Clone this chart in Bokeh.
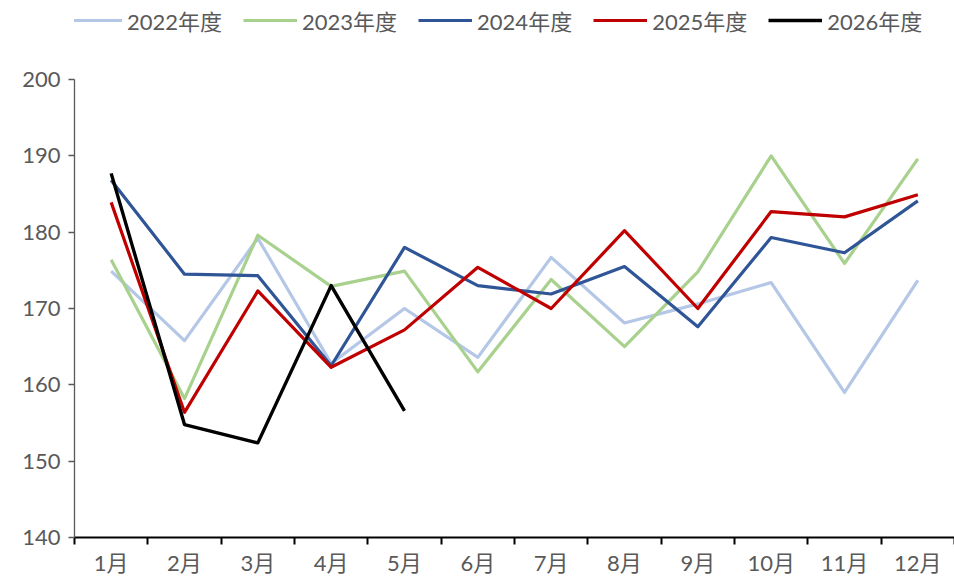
from bokeh.plotting import figure
from bokeh.layouts import column
from bokeh.models import FixedTicker, Legend, LegendItem, Range1d
from bokeh.embed import file_html
from bokeh.resources import INLINE

months = ["1月", "2月", "3月", "4月", "5月", "6月", "7月", "8月", "9月", "10月", "11月", "12月"]
y2022 = [174.9, 165.8, 179.2, 162.8, 170.0, 163.6, 176.7, 168.1, 170.6, 173.4, 159.0, 173.7]
y2023 = [176.4, 158.2, 179.6, 172.9, 174.9, 161.7, 173.8, 165.0, 174.8, 190.0, 175.9, 189.6]
y2024 = [186.8, 174.5, 174.3, 162.5, 178.0, 173.0, 171.9, 175.5, 167.6, 179.3, 177.3, 184.1]
y2025 = [183.9, 156.4, 172.3, 162.3, 167.2, 175.4, 170.0, 180.2, 170.0, 182.7, 182.0, 184.9]
y2026 = [187.7, 154.8, 152.4, 173.0, 156.6]
series_names = ["2022年度", "2023年度", "2024年度", "2025年度", "2026年度"]
y_ticks = [140, 150, 160, 170, 180, 190, 200]

colors = ["#B4C7E7", "#A9D18E", "#2F5597", "#C00000", "#000000"]
widths = [3.2, 3.2, 3.2, 3.2, 3.4]
FONT = "Lato, 'Noto Sans CJK SC', sans-serif"
TXT = "#595959"

xs = list(range(1, 13))
data = [y2022, y2023, y2024, y2025, y2026]

# ---- main chart ----
p = figure(width=954, height=514, output_backend="svg", toolbar_location=None,
           x_range=Range1d(0.5, 12.5), y_range=Range1d(140, 200),
           min_border_left=74, min_border_right=0, min_border_top=14, min_border_bottom=42)
p.outline_line_color = None
p.xgrid.visible = False
p.ygrid.visible = False
p.background_fill_color = "white"
p.border_fill_color = "white"

for vals, c, w in zip(data, colors, widths):
    p.line(xs[:len(vals)], vals, line_color=c, line_width=w, line_join="round")

xa = p.xaxis[0]
xa.ticker = FixedTicker(ticks=xs, minor_ticks=[i + 0.5 for i in range(0, 13)])
xa.major_label_overrides = {i: m for i, m in zip(xs, months)}
xa.major_tick_out = 0
xa.major_tick_in = 0
xa.minor_tick_out = 7
xa.minor_tick_in = 0
xa.minor_tick_line_color = "black"
xa.minor_tick_line_width = 2
xa.axis_line_color = "black"
xa.axis_line_width = 2
xa.major_label_standoff = 4
xa.major_label_text_font = FONT
xa.major_label_text_font_size = "22px"
xa.major_label_text_color = TXT

ya = p.yaxis[0]
ya.ticker = FixedTicker(ticks=y_ticks)
ya.minor_tick_line_color = None
ya.major_tick_out = 6
ya.major_tick_in = 0
ya.axis_line_color = "#595959"
ya.axis_line_width = 1.3
ya.major_tick_line_color = "#595959"
ya.major_tick_line_width = 1.3
ya.major_label_standoff = 8
ya.major_label_text_font = FONT
ya.major_label_text_font_size = "22px"
ya.major_label_text_color = TXT

# ---- legend strip (same series, plotted out of view; only the legend shows) ----
lg = figure(width=954, height=65, output_backend="svg", toolbar_location=None,
            x_range=Range1d(0, 1), y_range=Range1d(0, 1),
            x_axis_type=None, y_axis_type=None, min_border=0)
lg.outline_line_color = None
lg.xgrid.visible = False
lg.ygrid.visible = False
items = []
for name, vals, c, w in zip(series_names, data, colors, widths):
    r = lg.line(xs[:len(vals)], vals, line_color=c, line_width=w)
    items.append(LegendItem(label=name, renderers=[r]))
legend = Legend(items=items, orientation="horizontal", location=(-6, 29),
                glyph_width=54, glyph_height=22, label_standoff=5, spacing=21,
                padding=0, margin=0, border_line_color=None, background_fill_alpha=0,
                label_text_font=FONT, label_text_font_size="22px", label_text_color=TXT)
lg.add_layout(legend, "center")

layout = column(lg, p, spacing=0)
open("out.html", "w").write(file_html(layout, INLINE))
